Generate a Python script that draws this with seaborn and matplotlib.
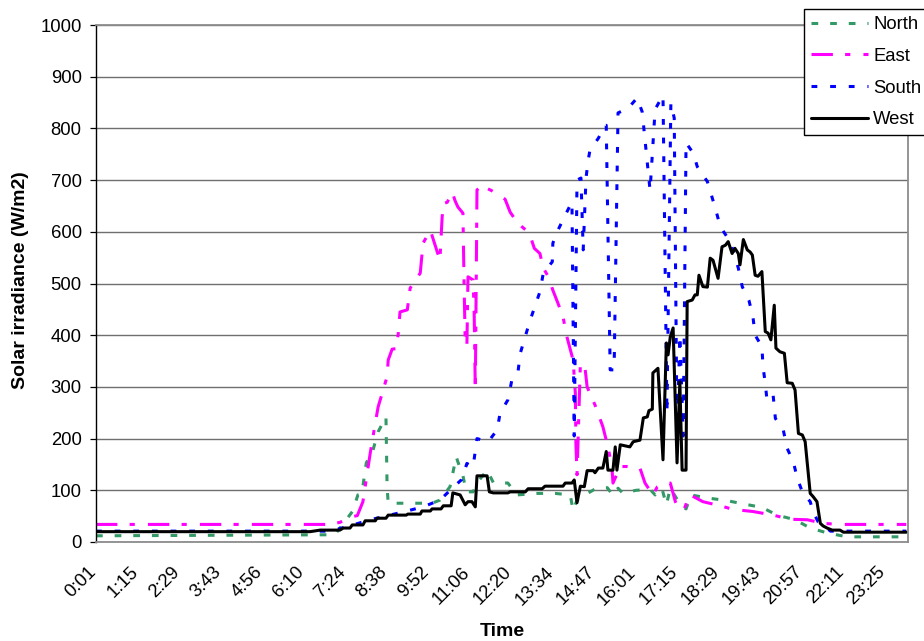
import matplotlib
matplotlib.use("Agg")
import matplotlib.pyplot as plt
import matplotlib.transforms as mtransforms
import seaborn as sns
import pandas as pd

# ---------------- data (minutes after midnight, W/m2) ----------------
time_labels = ["0:01", "1:15", "2:29", "3:43", "4:56", "6:10", "7:24", "8:38", "9:52",
               "11:06", "12:20", "13:34", "14:47", "16:01", "17:15", "18:29", "19:43",
               "20:57", "22:11", "23:25"]

north_t = [1, 426, 458, 467, 474, 482, 494, 503, 517, 519, 521, 599, 613, 631, 642, 645, 654,
           660, 672, 681, 697, 708, 734, 750, 786, 818, 845, 850, 857, 871, 893, 911, 921, 930,
           939, 962, 987, 996, 1008, 1016, 1023, 1040, 1051, 1060, 1090, 1124, 1156, 1186,
           1213, 1245, 1272, 1304, 1338, 1443]
north_v = [12, 14, 60, 91, 93, 153, 178, 213, 242, 107, 75, 75, 81, 107, 165, 155, 128,
           97, 97, 117, 139, 115, 114, 91, 94, 94, 91, 61, 81, 91, 105, 105, 90, 104,
           94, 100, 102, 91, 104, 72, 104, 74, 64, 91, 85, 80, 73, 67,
           52, 43, 27, 17, 10, 10]

east_t = [1, 418, 435, 457, 466, 476, 489, 498, 503, 519, 521, 528, 535, 539, 542, 555, 560,
          574, 578, 583, 596, 613, 617, 620, 626, 635, 640, 645, 654, 656, 658, 661, 663,
          672, 674, 676, 679, 685, 692, 697, 706, 709, 729, 738, 752, 772, 781, 791, 797,
          806, 814, 823, 832, 839, 850, 854, 855, 857, 863, 871, 875, 889, 903, 912, 919,
          921, 934, 946, 969, 978, 992, 1000, 1010, 1023, 1032, 1037, 1048, 1057, 1081,
          1112, 1135, 1170, 1206, 1236, 1267, 1295, 1325, 1443]
east_v = [34, 34, 38, 49, 51, 78, 172, 230, 261, 320, 352, 373, 374, 404, 445, 449, 491,
          514, 520, 578, 603, 545, 629, 655, 657, 677, 660, 648, 636, 500, 390, 378, 513,
          507, 443, 294, 681, 687, 690, 684, 679, 677, 663, 638, 616, 598, 568, 558, 530,
          513, 487, 462, 436, 397, 352, 288, 191, 130, 346, 339, 300, 265, 223, 184, 146,
          114, 146, 146, 143, 114, 91, 107, 114, 114, 78, 67, 64, 92, 78,
          70, 63, 59, 52, 44, 43, 36, 34, 34]

south_t = [1, 418, 458, 489, 551, 583, 613, 635, 652, 661, 672, 679, 699, 715, 720, 734, 741,
           752, 756, 773, 791, 797, 813, 814, 823, 836, 848, 852, 857, 864, 868, 873, 877,
           880, 895, 907, 909, 916, 923, 930, 934, 948, 964, 973, 987, 996, 1010, 1017,
           1024, 1030, 1035, 1040, 1046, 1051, 1064, 1071, 1089, 1103, 1112, 1130, 1144,
           1151, 1163, 1170, 1174, 1186, 1188, 1192, 1195, 1201, 1206, 1210, 1224, 1231,
           1242, 1249, 1259, 1272, 1277, 1286, 1295, 1308, 1443]
south_v = [21, 21, 33, 43, 59, 68, 81, 104, 121, 152, 145, 200, 194, 217, 249, 275, 313,
           329, 365, 427, 484, 520, 542, 578, 603, 632, 658, 205, 700, 704, 565, 704, 739,
           758, 781, 806, 806, 333, 333, 830, 832, 839, 859, 832, 680, 837, 864, 250,
           849, 820, 205, 400, 205, 772, 752, 726, 697, 646, 610, 580, 530,
           494, 467, 436, 400, 378, 339, 307, 275, 275, 284, 239, 217, 181,
           155, 123, 94, 78, 59, 39, 33, 21, 21]

west_t = [1, 382, 400, 435, 441, 453, 457, 476, 480, 498, 501, 517, 521, 553, 556, 578, 581,
          596, 599, 615, 619, 633, 636, 649, 658, 663, 670, 676, 679, 697, 701, 708, 734,
          738, 765, 770, 795, 800, 832, 836, 848, 852, 857, 863, 870, 875, 886, 889, 895,
          903, 909, 912, 921, 925, 928, 934, 951, 957, 969, 975, 982, 985, 991, 992, 1001,
          1010, 1016, 1019, 1023, 1028, 1035, 1040, 1044, 1051, 1053, 1062, 1067, 1071,
          1074, 1081, 1089, 1094, 1099, 1108, 1115, 1121, 1126, 1133, 1138, 1144, 1147,
          1153, 1160, 1165, 1169, 1174, 1179, 1186, 1192, 1197, 1202, 1208, 1211, 1218,
          1226, 1231, 1240, 1245, 1251, 1258, 1263, 1272, 1277, 1284, 1290, 1295, 1302,
          1311, 1325, 1331, 1443]
west_v = [20, 20, 23, 23, 27, 27, 33, 33, 41, 41, 46, 46, 52, 52, 54, 54, 60,
          60, 64, 64, 70, 70, 95, 91, 72, 78, 78, 68, 128, 128, 97, 95, 95,
          97, 97, 103, 103, 108, 108, 114, 114, 120, 76, 108, 107, 138, 138, 134, 143,
          143, 175, 139, 139, 184, 139, 188, 184, 194, 197, 240, 242, 254, 257, 327, 336,
          159, 385, 362, 397, 414, 153, 310, 139, 139, 465, 468, 478, 478,
          516, 494, 493, 549, 545, 510, 571, 574, 581, 558, 568, 558, 536,
          585, 565, 561, 555, 516, 514, 523, 407, 404, 391, 458, 375, 368,
          365, 308, 307, 294, 210, 207, 194, 94, 88, 78, 36, 31, 27,
          23, 23, 19, 19]

series_names = ["North", "East", "South", "West"]
series_colors = ["#339966", "#FF00FF", "#0000FF", "#000000"]

# ---------------- figure ----------------
sns.set_theme(style="white")
plt.rcParams['font.family'] = ['Liberation Sans', 'DejaVu Sans']

W, H = 924, 641
fig = plt.figure(figsize=(W / 100, H / 100), dpi=100)
fig.patch.set_facecolor("white")
ax = fig.add_axes([96 / W, 1 - 542 / H, (908 - 96) / W, (542 - 25) / H])

styles = [(0, (2.2, 3.9)),
          (0, (7, 4, 1.7, 4.3)),
          (0, (1.9, 4.2)),
          "-"]

all_t = [north_t, east_t, south_t, west_t]
all_v = [north_v, east_v, south_v, west_v]
for name, t, v, c, ls in zip(series_names, all_t, all_v, series_colors, styles):
    df = pd.DataFrame({"Time": t, "Irr": v})
    sns.lineplot(data=df, x="Time", y="Irr", ax=ax, color=c, linestyle=ls,
                 linewidth=2.2, sort=False, estimator=None, label=name)

# axes limits / ticks
ax.set_xlim(1, 1446)
ax.set_ylim(0, 1000)
ax.set_yticks(range(0, 1001, 100))
ax.tick_params(axis='y', left=True, direction='out', length=4.3, width=0.9,
               color='black', pad=6, labelsize=13.3, labelcolor='black')

def to_min(s):
    h, m = s.split(":")
    return int(h) * 60 + int(m)

ax.set_xticks([to_min(s) for s in time_labels])
ax.set_xticklabels(time_labels, rotation=45, ha='right', va='top',
                   rotation_mode='anchor', fontsize=13.3, color='black')
ax.tick_params(axis='x', bottom=False, length=0, pad=15.5)
offset = mtransforms.ScaledTranslation(-8 / 100, 0, fig.dpi_scale_trans)
for lab in ax.get_xticklabels():
    lab.set_transform(lab.get_transform() + offset)

# grid + spines
ax.set_axisbelow(True)
ax.yaxis.grid(True, color='#6f6f6f', linewidth=1.0)
ax.xaxis.grid(False)
for side in ["top", "right", "bottom"]:
    ax.spines[side].set_color('#8c8c8c')
    ax.spines[side].set_linewidth(1.3)
ax.spines["left"].set_color('black')
ax.spines["left"].set_linewidth(1.0)

# axis labels
ax.set_xlabel("Time", fontsize=14, fontweight='bold', color='black')
ax.set_ylabel("Solar irradiance (W/m2)", fontsize=14, fontweight='bold', color='black')
ax.xaxis.set_label_coords(0.5, (542 - 631) / 517)
ax.xaxis.label.set_va('center')
ax.yaxis.set_label_coords((21 - 96) / 812, (542 - 280) / 517)
ax.yaxis.label.set_va('center')
ax.yaxis.label.set_ha('center')

# legend
handles, labels = ax.get_legend_handles_labels()
leg = ax.legend(handles, labels, loc='upper left',
                bbox_to_anchor=(804 / W, 1 - 9 / H), bbox_transform=fig.transFigure,
                frameon=True, fancybox=False, framealpha=1, edgecolor='black',
                fontsize=13.3, handlelength=3.1, handletextpad=0.27,
                labelspacing=0.8, borderpad=0.38, borderaxespad=0)
leg.get_frame().set_linewidth(1.0)
for txt in leg.get_texts():
    txt.set_color('black')

fig.savefig("out.png", dpi=100, facecolor="white")
